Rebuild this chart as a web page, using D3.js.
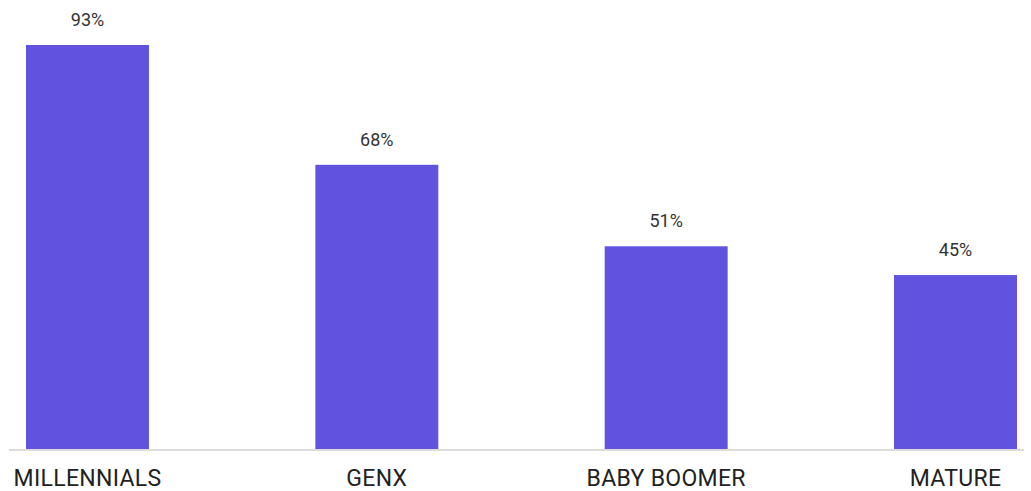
<!DOCTYPE html>
<html>
<head>
<meta charset="utf-8">
<script src="https://cdn.jsdelivr.net/npm/d3@7"></script>
<style>
  html, body { margin: 0; padding: 0; background: #fff; }
  svg { display: block; }
</style>
</head>
<body>
<svg id="chart" width="1031" height="491"></svg>
<script>
const categories = ["MILLENNIALS", "GENX", "BABY BOOMER", "MATURE"];
const values = [93, 68, 51, 45];
const valueLabels = ["93%", "68%", "51%", "45%"];

const svg = d3.select("#chart");
const baseY = 449;

const x = d3.scaleBand()
  .domain(categories)
  .range([9, 1034])
  .paddingInner(0.575)
  .paddingOuter(0.0588);

const y = d3.scaleLinear()
  .domain([8.7, 93])
  .range([baseY, 45]);

const data = categories.map((c, i) => ({ c, v: values[i], label: valueLabels[i] }));

svg.append("g").selectAll("rect")
  .data(data)
  .join("rect")
  .attr("x", d => x(d.c))
  .attr("width", x.bandwidth())
  .attr("y", d => y(d.v))
  .attr("height", d => baseY - y(d.v))
  .attr("fill", "#6153e0");

svg.append("line")
  .attr("x1", 9).attr("x2", 1024)
  .attr("y1", baseY + 1).attr("y2", baseY + 1)
  .attr("stroke", "#dcdcdc")
  .attr("stroke-width", 2);

svg.append("g").selectAll("text")
  .data(data)
  .join("text")
  .attr("x", d => x(d.c) + x.bandwidth() / 2)
  .attr("y", d => y(d.v) - 19)
  .attr("text-anchor", "middle")
  .attr("font-family", "Roboto, sans-serif")
  .attr("font-size", 18)
  .attr("fill", "#333")
  .text(d => d.label);

svg.append("g").selectAll("text")
  .data(data)
  .join("text")
  .attr("x", d => x(d.c) + x.bandwidth() / 2)
  .attr("y", 486)
  .attr("text-anchor", "middle")
  .attr("font-family", "Roboto, sans-serif")
  .attr("font-size", 23)
  .attr("letter-spacing", 0.3)
  .attr("fill", "#222")
  .text(d => d.c);
</script>
</body>
</html>
